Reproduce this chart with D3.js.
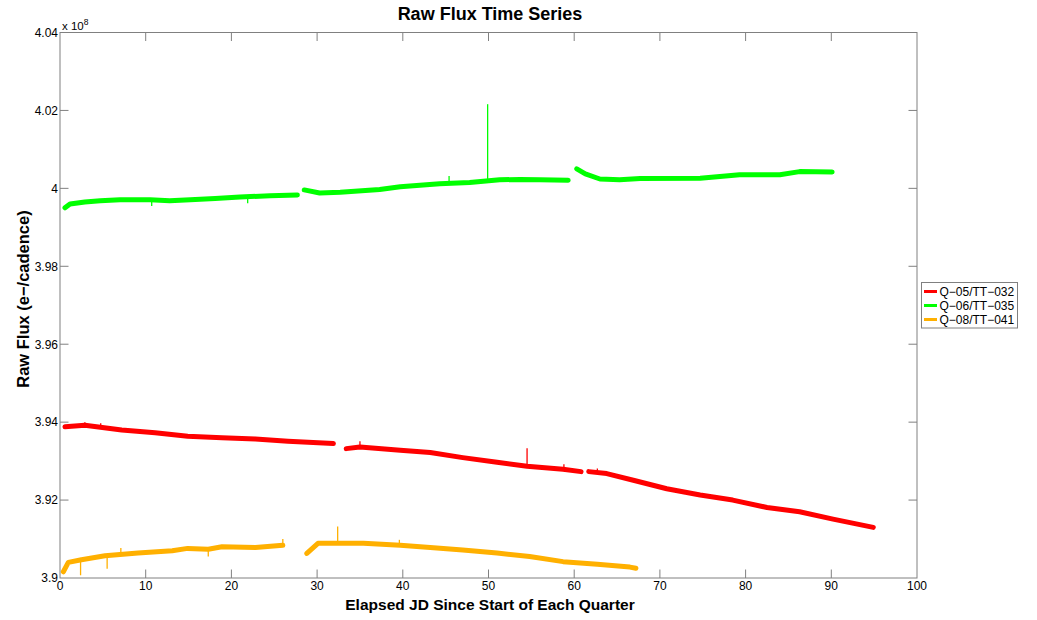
<!DOCTYPE html>
<html>
<head>
<meta charset="utf-8">
<script src="https://cdn.jsdelivr.net/npm/d3@7"></script>
<style>
  body { margin: 0; background: #fff; }
  svg { font-family: "Liberation Sans", Helvetica, Arial, sans-serif; }
</style>
</head>
<body>
<div id="chart"></div>
<script>
// values in units of 1e8 e-/cadence
const seriesNames = ["Q\u221205/TT\u2212032", "Q\u221206/TT\u2212035", "Q\u221208/TT\u2212041"];
const seriesColors = ["#ff0000", "#00ff00", "#ffb000"];

// each series is a list of segments (gaps between quarters' data)
const q05 = [
    [[0.58, 3.9388], [2.9, 3.9392], [7.2, 3.9380], [11.1, 3.9373], [14.9, 3.9364], [18.9, 3.9360], [22.8, 3.9357], [26.6, 3.9351], [31.9, 3.9345]],
    [[33.4, 3.9332], [35.0, 3.9336], [39.7, 3.9328], [43.2, 3.9322], [47.0, 3.9309], [51.0, 3.9297], [54.5, 3.9287], [58.7, 3.9279], [60.8, 3.9273]],
    [[61.7, 3.9273], [63.8, 3.9268], [66.9, 3.9251], [70.8, 3.9229], [74.7, 3.9213], [78.5, 3.9200], [82.5, 3.9181], [86.3, 3.9170], [90.2, 3.9151], [94.9, 3.9130]]
];
const q06 = [
    [[0.58, 3.9950], [1.17, 3.9960], [2.9, 3.9965], [4.7, 3.9968], [7.0, 3.9971], [10.5, 3.9971], [12.8, 3.9968], [15.2, 3.9971], [18.1, 3.9974], [21.0, 3.9978], [24.5, 3.9981], [27.7, 3.9983]],
    [[28.5, 3.9996], [30.3, 3.9988], [32.7, 3.9990], [37.3, 3.9997], [39.7, 4.0004], [44.3, 4.0012], [47.8, 4.0015], [51.3, 4.0022], [53.7, 4.0023], [56.0, 4.0022], [59.3, 4.0021]],
    [[60.3, 4.0050], [61.3, 4.0037], [63.0, 4.0024], [65.3, 4.0022], [67.7, 4.0025], [74.7, 4.0026], [79.3, 4.0035], [84.0, 4.0035], [86.3, 4.0043], [90.1, 4.0042]]
];
const q08 = [
    [[0.39, 3.9016], [0.97, 3.9040], [2.5, 3.9047], [5.25, 3.9057], [9.1, 3.9064], [13.1, 3.9070], [14.9, 3.9076], [17.3, 3.9074], [18.9, 3.9080], [22.8, 3.9078], [26.0, 3.9084]],
    [[28.8, 3.9063], [30.1, 3.9089], [32.4, 3.9089], [35.4, 3.9089], [39.7, 3.9084], [43.2, 3.9078], [47.0, 3.9072], [51.0, 3.9064], [54.8, 3.9055], [58.7, 3.9042], [62.7, 3.9035], [66.5, 3.9028], [67.2, 3.9025]]
];
const seriesData = [q05, q06, q08];

// single-cadence outliers: [time, baseline, peak]
const q05Spikes = [[2.9, 3.9390, 3.9400], [4.75, 3.9388, 3.9397], [35.0, 3.9336, 3.9351], [54.5, 3.9288, 3.9333], [58.8, 3.9279, 3.9292], [62.7, 3.9270, 3.9281]];
const q06Spikes = [[10.7, 3.9971, 3.9955], [21.9, 3.9978, 3.9962], [45.4, 4.0012, 4.0032], [49.9, 4.0020, 4.0216]];
const q08Spikes = [[2.4, 3.9045, 3.9007], [5.5, 3.9057, 3.9024], [7.1, 3.9060, 3.9077], [17.3, 3.9074, 3.9055], [26.0, 3.9084, 3.9100], [32.4, 3.9089, 3.9132], [39.6, 3.9084, 3.9098]];
const seriesSpikes = [q05Spikes, q06Spikes, q08Spikes];

const xTicks = [0, 10, 20, 30, 40, 50, 60, 70, 80, 90, 100];
const yTicks = [3.90, 3.92, 3.94, 3.96, 3.98, 4.00, 4.02, 4.04];
const yTickLabels = ["3.9", "3.92", "3.94", "3.96", "3.98", "4", "4.02", "4.04"];

const width = 1037, height = 620;
const plot = { left: 60, top: 32.5, right: 917, bottom: 578 };
const axisColor = "#808080";
const tickLen = 8.5;

const svg = d3.select("#chart").append("svg")
    .attr("width", width)
    .attr("height", height);

const xScale = d3.scaleLinear().domain([0, 100]).range([plot.left, plot.right]);
const yScale = d3.scaleLinear().domain([3.9, 4.04]).range([plot.bottom, plot.top]);

// data
const line = d3.line().x(d => xScale(d[0])).y(d => yScale(d[1]));
const dataG = svg.append("g");

seriesData.forEach((segs, i) => {
    dataG.selectAll(null)
        .data(seriesSpikes[i])
        .enter().append("line")
        .attr("x1", d => xScale(d[0]))
        .attr("x2", d => xScale(d[0]))
        .attr("y1", d => yScale(d[1]))
        .attr("y2", d => yScale(d[2]))
        .attr("stroke", seriesColors[i])
        .attr("stroke-width", 1.3);

    dataG.selectAll(null)
        .data(segs)
        .enter().append("path")
        .attr("d", line)
        .attr("fill", "none")
        .attr("stroke", seriesColors[i])
        .attr("stroke-width", 5)
        .attr("stroke-linejoin", "round")
        .attr("stroke-linecap", "round");
});

// axes box + ticks on all four sides
const axG = svg.append("g").attr("stroke", axisColor).attr("stroke-width", 1);
axG.append("rect")
    .attr("x", plot.left).attr("y", plot.top)
    .attr("width", plot.right - plot.left).attr("height", plot.bottom - plot.top)
    .attr("fill", "none");

const innerX = xTicks.slice(1, -1);
const innerY = yTicks.slice(1, -1);
axG.selectAll(null).data(innerX).enter().append("line")
    .attr("x1", d => xScale(d)).attr("x2", d => xScale(d))
    .attr("y1", plot.bottom).attr("y2", plot.bottom - tickLen);
axG.selectAll(null).data(innerX).enter().append("line")
    .attr("x1", d => xScale(d)).attr("x2", d => xScale(d))
    .attr("y1", plot.top).attr("y2", plot.top + tickLen);
axG.selectAll(null).data(innerY).enter().append("line")
    .attr("y1", d => yScale(d)).attr("y2", d => yScale(d))
    .attr("x1", plot.left).attr("x2", plot.left + tickLen);
axG.selectAll(null).data(innerY).enter().append("line")
    .attr("y1", d => yScale(d)).attr("y2", d => yScale(d))
    .attr("x1", plot.right).attr("x2", plot.right - tickLen);

// tick labels
svg.append("g").selectAll("text").data(xTicks).enter().append("text")
    .attr("x", d => xScale(d))
    .attr("y", 590)
    .attr("text-anchor", "middle")
    .attr("font-size", 12)
    .text(d => d);

svg.append("g").selectAll("text").data(yTicks).enter().append("text")
    .attr("x", plot.left - 2)
    .attr("y", d => yScale(d) + 4.3)
    .attr("text-anchor", "end")
    .attr("font-size", 12)
    .text((d, i) => yTickLabels[i]);

// exponent
const expo = svg.append("text")
    .attr("x", 62).attr("y", 30)
    .attr("font-size", 11.5);
expo.append("tspan").text("x 10");
expo.append("tspan").attr("dy", -5).attr("font-size", 8.5).text("8");

// titles
svg.append("text")
    .attr("x", 490).attr("y", 20)
    .attr("text-anchor", "middle")
    .attr("font-size", 18).attr("font-weight", "bold")
    .text("Raw Flux Time Series");

svg.append("text")
    .attr("x", 490).attr("y", 609.5)
    .attr("text-anchor", "middle")
    .attr("font-size", 15.5).attr("font-weight", "bold")
    .text("Elapsed JD Since Start of Each Quarter");

svg.append("text")
    .attr("transform", "translate(29,299) rotate(-90)")
    .attr("text-anchor", "middle")
    .attr("font-size", 16.5).attr("font-weight", "bold")
    .text("Raw Flux (e\u2212/cadence)");

// legend
const legend = svg.append("g").attr("transform", "translate(921.5,282.5)");
legend.append("rect")
    .attr("width", 96).attr("height", 45.5)
    .attr("fill", "#fff").attr("stroke", axisColor);
const rows = legend.selectAll("g.row").data(seriesNames).enter().append("g")
    .attr("class", "row")
    .attr("transform", (d, i) => `translate(0,${9 + i * 14})`);
rows.append("line")
    .attr("x1", 2.5).attr("x2", 15.5)
    .attr("stroke", (d, i) => seriesColors[i])
    .attr("stroke-width", 3);
rows.append("text")
    .attr("x", 18).attr("y", 4.3)
    .attr("font-size", 12)
    .text(d => d);
</script>
</body>
</html>
